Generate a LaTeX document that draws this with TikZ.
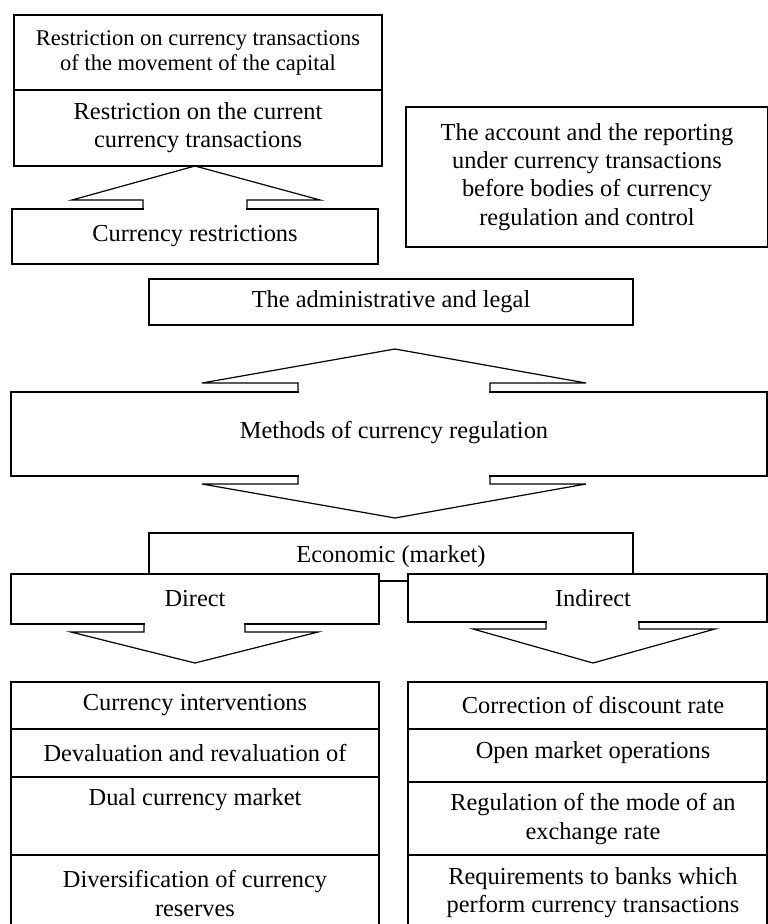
\documentclass[tikz,border=0pt]{standalone}
\usepackage{fontspec}
\setmainfont{Liberation Serif}
\newcommand\bigfs{\fontsize{24.4}{28.3}\selectfont}
\newcommand\smallfs{\fontsize{22.5}{25}\selectfont}
\tikzset{
  box/.style={draw, line width=1.2pt, fill=white, inner sep=0pt, align=center, font=\bigfs},
  txt/.style={inner sep=0pt, align=center, font=\bigfs},
  blockarrow/.style={line width=1.2pt, line join=miter},
  gapfill/.style={fill=white, draw=none}
}
\begin{document}
\begin{tikzpicture}[x=1pt,y=-1pt]
\useasboundingbox (0,0) rectangle (768,924);

% top left stack
\node[box, font=\smallfs, minimum width=368, minimum height=75] (b1) at (198,52.5)
  {Restriction on currency transactions\\of the movement of the capital};
\node[box, minimum width=368, minimum height=76] (b2) at (198,128)
  {Restriction on the current\\currency transactions};
\node[box, minimum width=366, minimum height=55] (cr) at (195,236.5) {Currency restrictions};

% right box
\node[box, minimum width=362, minimum height=140] (acct) at (587,177)
  {The account and the reporting\\under currency transactions\\before bodies of currency\\regulation and control};

% middle
\node[box, minimum width=484, minimum height=46] (adm) at (391,302) {The administrative and legal};
\node[box, minimum width=756, minimum height=84] (meth) at (389,434) {};
\node[txt] (methtxt) at (394,433) {Methods of currency regulation};

\node[box, minimum width=484, minimum height=48] (econ) at (391,557) {};
\node[txt] (econtxt) at (391,557) {Economic (market)};
\node[box, minimum width=368, minimum height=50] (dir) at (195,599) {Direct};
\node[box, minimum width=359, minimum height=48] (ind) at (587.5,598) {};
\node[txt] (indtxt) at (593,598) {Indirect};

% left column
\node[box, minimum width=368, minimum height=47] (L1) at (195,705.5) {Currency interventions};
\node[box, minimum width=368, minimum height=48] (L2) at (195,753) {Devaluation and revaluation of};
\node[box, minimum width=368, minimum height=78] (L3) at (195,816) {};
\node[txt] (L3txt) at (195,800) {Dual currency market};
\node[box, minimum width=368, minimum height=77] (L4) at (195,893.5) {Diversification of currency\\reserves};

% right column
\node[box, minimum width=359, minimum height=47] (R1) at (587.5,705.5) {};
\node[txt] (R1txt) at (593,705) {Correction of discount rate};
\node[box, minimum width=359, minimum height=53] (R2) at (587.5,755.5) {};
\node[txt] (R2txt) at (593,753) {Open market operations};
\node[box, minimum width=359, minimum height=73] (R3) at (587.5,818.5) {};
\node[txt] (R3txt) at (593,819) {Regulation of the mode of an\\exchange rate};
\node[box, minimum width=359, minimum height=77] (R4) at (587.5,893.5) {};
\node[txt] (R4txt) at (593,893) {Requirements to banks which\\perform currency transactions};

% block arrows: openings in box edges
\fill[gapfill] (143.6,205) rectangle (246.4,212.5);
\fill[gapfill] (298.6,388) rectangle (489.4,396);
\fill[gapfill] (298.6,472) rectangle (489.4,480);
\fill[gapfill] (144.6,620) rectangle (244.4,628);
\fill[gapfill] (546.6,618) rectangle (638.4,626);

% up arrow: b2 -> Currency restrictions
\coordinate (apA) at (195,166);
\draw[blockarrow] (143,0 |- cr.north) -- (143,200) -- (72,200) -- (apA)
  -- (320,200) -- (247,200) -- (247,0 |- cr.north);
% up arrow above Methods
\coordinate (apB) at (395,349);
\draw[blockarrow] (298,0 |- meth.north) -- (298,383) -- (202,383) -- (apB)
  -- (586,383) -- (490,383) -- (490,0 |- meth.north);
% down arrow below Methods
\coordinate (apC) at (395,518);
\draw[blockarrow] (298,0 |- meth.south) -- (298,484) -- (202,484) -- (apC)
  -- (586,484) -- (490,484) -- (490,0 |- meth.south);
% down arrow below Direct
\coordinate (apD) at (195,663);
\draw[blockarrow] (144,0 |- dir.south) -- (144,632) -- (71,632) -- (apD)
  -- (318,632) -- (245,632) -- (245,0 |- dir.south);
% down arrow below Indirect
\coordinate (apE) at (593,663);
\draw[blockarrow] (546,0 |- ind.south) -- (546,629) -- (473,629) -- (apE)
  -- (715,629) -- (639,629) -- (639,0 |- ind.south);
\end{tikzpicture}
\end{document}
